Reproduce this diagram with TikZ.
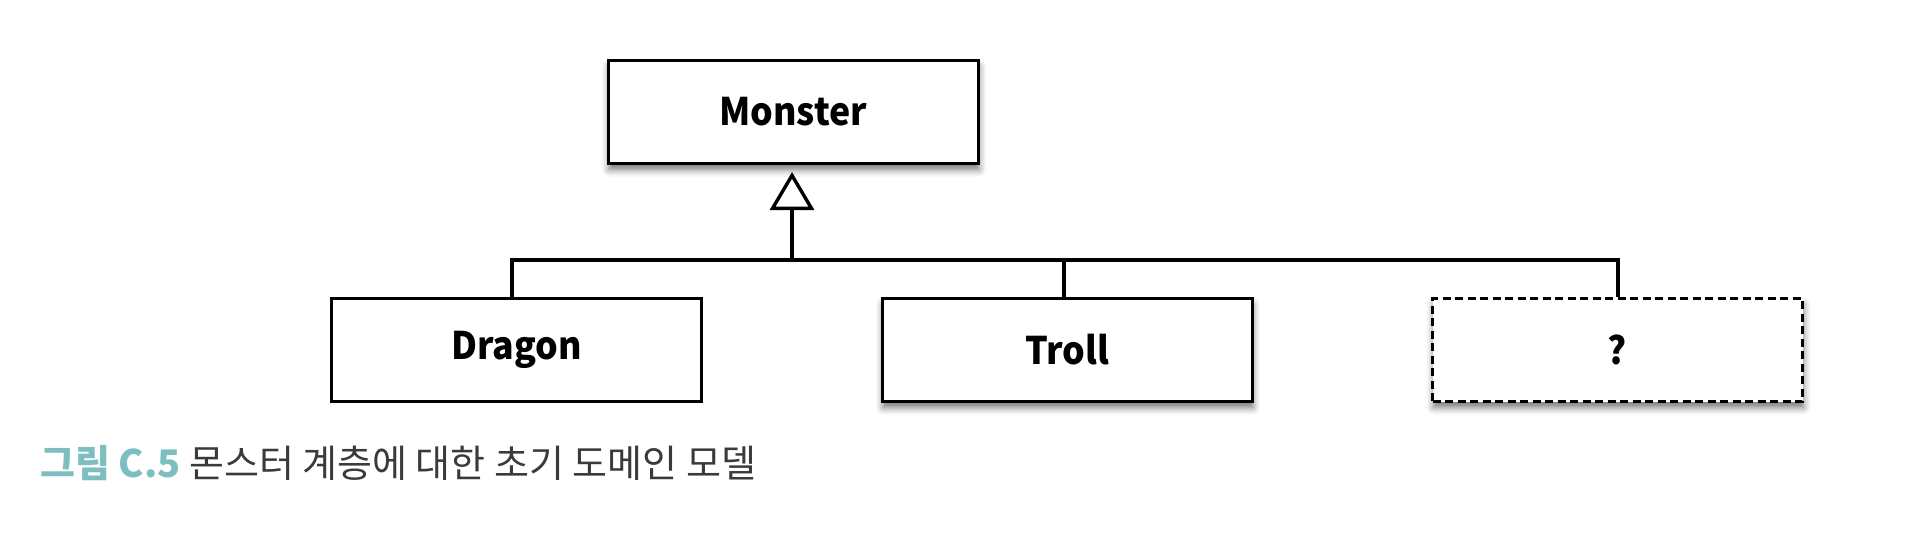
\documentclass[tikz,border=0pt]{standalone}
\usepackage{fontspec}
\setmainfont{Noto Sans CJK KR}
\newfontfamily\labfont{Noto Sans CJK KR}[FakeStretch=0.94]
\usetikzlibrary{arrows.meta,shadows.blur,positioning}
\definecolor{capteal}{HTML}{7DBFC0}
\definecolor{capgray}{HTML}{3A3A3A}
\tikzset{
  cls/.style={draw=black, line width=3pt, fill=white, minimum width=370pt, minimum height=103pt, inner sep=0pt, font=\fontsize{38}{44}\labfont\bfseries},
  shad/.style={blur shadow={shadow xshift=1pt, shadow yshift=-6pt, shadow blur radius=7pt, shadow opacity=55}},
  conn/.style={line width=3.4pt},
  captionstyle/.style={anchor=west, inner sep=0pt, font=\fontsize{38}{44}\selectfont}
}
\begin{document}
\begin{tikzpicture}[x=1pt,y=-1pt]
\useasboundingbox (0,0) rectangle (1932,554);
\node[cls, shad] (monster) at (793,112) {Monster};
\node[cls] (dragon) at (516.5,350) {Dragon};
\node[cls, shad] (troll) at (1067,350) {Troll};
\node[cls, shad, dashed, dash pattern=on 8pt off 4.5pt] (unknown) at (1617.5,350) {?};
\coordinate (busL) at (512,260);
\coordinate (busM) at (792,260);
\coordinate (busT) at (1064,260);
\coordinate (busR) at (1618,260);
\draw[conn] (busL |- dragon.north) -- (busL) -- (busR) -- (busR |- unknown.north);
\draw[conn] (busT) -- (busT |- troll.north);
\draw[conn, -{Triangle[open, length=38pt, width=44pt, line width=3.4pt]}, shorten >=7pt] (busM) -- (busM |- monster.south);
\node[captionstyle] (cap) at (40,463) {\textcolor{capteal}{\bfseries 그림 C.5} \textcolor{capgray}{몬스터 계층에 대한 초기 도메인 모델}};
\end{tikzpicture}
\end{document}
